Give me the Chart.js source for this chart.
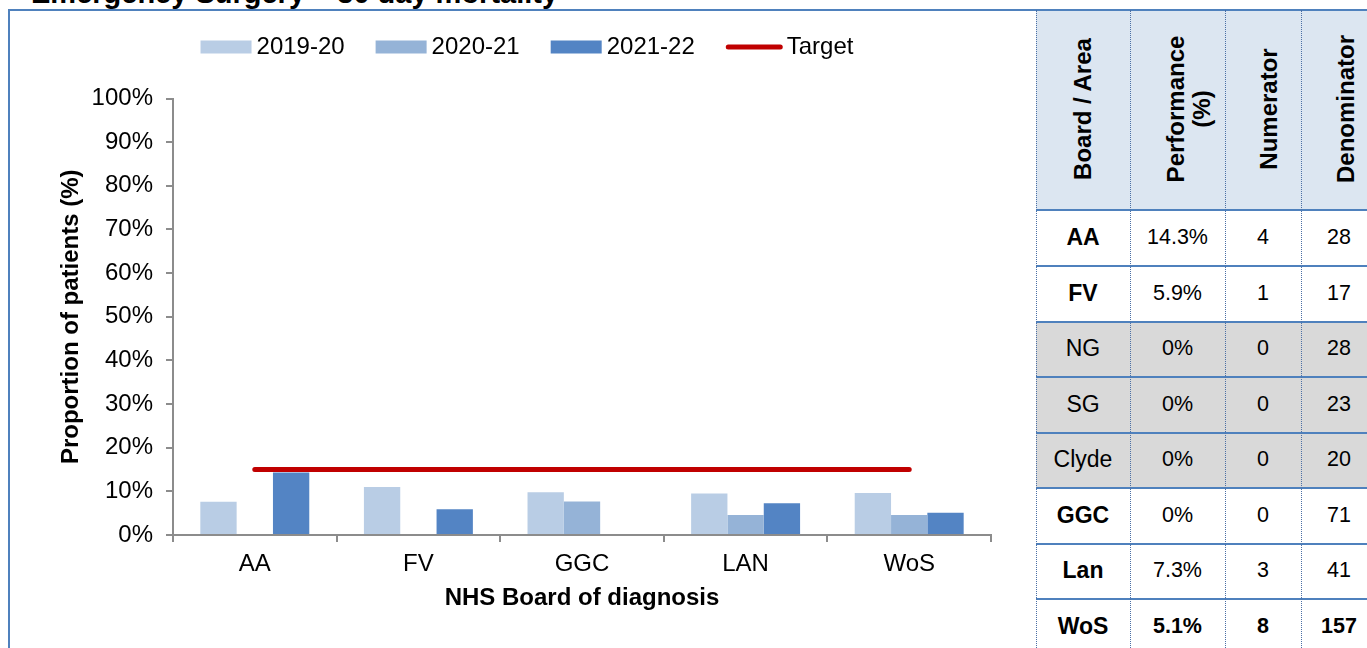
<!DOCTYPE html>
<html>
<head>
<meta charset="utf-8">
<title>Emergency Surgery – 30 day mortality</title>
<script src="https://cdn.jsdelivr.net/npm/chart.js@4/dist/chart.umd.min.js"></script>
<style>
  html, body { margin: 0; padding: 0; background: #fff; overflow: hidden; }
  body { width: 1367px; height: 648px; position: relative; font-family: "Liberation Sans", Arial, sans-serif; color: #000; }
  #title { position: absolute; left: 0; top: 0; width: 760px; height: 9px; overflow: hidden; }
  #title span { position: absolute; left: 31px; top: -21px; font-weight: bold; font-size: 29px; line-height: 29px; white-space: nowrap; }
  #frame { position: absolute; left: 8px; top: 9px; width: 1400px; height: 700px; border-left: 2px solid #4F81BD; border-top: 2px solid #4F81BD; }
  #chart { position: absolute; left: 0; top: 0; }
  .cell { position: absolute; display: flex; align-items: center; justify-content: center; white-space: nowrap; }
  .hline { position: absolute; height: 2px; background: #4F81BD; }
  .vline { position: absolute; width: 0; border-left: 1px dotted #4a6fa5; }
  .head { position: absolute; width: 200px; height: 60px; display: flex; flex-direction: column; align-items: center; justify-content: center; transform: rotate(-90deg); font-weight: bold; font-size: 24px; line-height: 26.5px; white-space: nowrap; }
</style>
</head>
<body>
<div id="title"><span>Emergency Surgery – 30 day mortality</span></div>
<div id="frame"></div>
<canvas id="chart" width="1036" height="648"></canvas>
<div id="table"></div>
<script>
// Chart values (% of patients)
const categories = ['AA', 'FV', 'GGC', 'LAN', 'WoS'];
const values2019 = [7.6, 11.0, 9.8, 9.5, 9.6];
const values2020 = [0, 0, 7.7, 4.6, 4.6];
const values2021 = [14.3, 5.9, 0, 7.3, 5.1];
const targetValues = [15, 15, 15, 15, 15];
const seriesLabels = ['2019-20', '2020-21', '2021-22', 'Target'];

// Summary table
const tableHeaders = [['Board / Area'], ['Performance', '(%)'], ['Numerator'], ['Denominator']];
const tableBoards = ['AA', 'FV', 'NG', 'SG', 'Clyde', 'GGC', 'Lan', 'WoS'];
const tablePerformance = ['14.3%', '5.9%', '0%', '0%', '0%', '0%', '7.3%', '5.1%'];
const tableNumerator = [4, 1, 0, 0, 0, 0, 3, 8];
const tableDenominator = [28, 17, 28, 23, 20, 71, 41, 157];

const FONT = '"Liberation Sans", Arial, sans-serif';
const AXIS = '#8c8c8c';

// Legend drawn as a single centred row above the plot
const rowLegend = {
  id: 'rowLegend',
  afterDraw(chart) {
    const c = chart.ctx;
    c.save();
    c.font = '24px ' + FONT;
    c.textBaseline = 'middle';
    const items = chart.data.datasets.map(ds => ({
      label: ds.label,
      isLine: ds.type === 'line',
      color: ds.type === 'line' ? ds.borderColor : ds.backgroundColor
    }));
    const gap = 31, cy = 47;
    const widths = items.map(it => (it.isLine ? 61 : 56) + c.measureText(it.label).width);
    const total = widths.reduce((a, b) => a + b, 0) + gap * (items.length - 1);
    let x = 527 - total / 2;
    items.forEach((it, i) => {
      if (it.isLine) {
        c.strokeStyle = it.color;
        c.lineWidth = 5;
        c.lineCap = 'round';
        c.beginPath();
        c.moveTo(x + 2.5, cy);
        c.lineTo(x + 54.5, cy);
        c.stroke();
        c.fillStyle = '#000';
        c.fillText(it.label, x + 61, cy);
      } else {
        c.fillStyle = it.color;
        c.fillRect(x, cy - 6.5, 51, 13);
        c.fillStyle = '#000';
        c.fillText(it.label, x + 56, cy);
      }
      x += widths[i] + gap;
    });
    c.restore();
  }
};

new Chart(document.getElementById('chart'), {
  data: {
    labels: categories,
    datasets: [
      { type: 'bar', label: seriesLabels[0], data: values2019, backgroundColor: '#B9CDE5', order: 1 },
      { type: 'bar', label: seriesLabels[1], data: values2020, backgroundColor: '#95B3D7', order: 1 },
      { type: 'bar', label: seriesLabels[2], data: values2021, backgroundColor: '#5384C4', order: 1 },
      { type: 'line', label: seriesLabels[3], data: targetValues, borderColor: '#C00000', backgroundColor: '#C00000',
        borderWidth: 5, borderCapStyle: 'round', pointRadius: 0, tension: 0, order: 0 }
    ]
  },
  options: {
    responsive: false,
    animation: false,
    devicePixelRatio: 1,
    events: [],
    layout: { padding: { left: 0, right: 45, top: 98.5, bottom: 0 } },
    datasets: { bar: { categoryPercentage: 0.666, barPercentage: 1 } },
    plugins: { legend: { display: false }, tooltip: { enabled: false } },
    scales: {
      x: {
        grid: { offset: true, drawOnChartArea: false, drawTicks: true, tickLength: 7, color: AXIS, lineWidth: 2 },
        border: { display: true, color: AXIS, width: 2 },
        ticks: { font: { size: 24, family: FONT }, color: '#000', padding: 8, maxRotation: 0, autoSkip: false },
        title: { display: true, text: 'NHS Board of diagnosis', color: '#000',
                 font: { size: 24, weight: 'bold', family: FONT, lineHeight: 1.2 }, padding: { top: 0, bottom: 35 } },
        afterFit(scale) { scale.height = 113; }
      },
      y: {
        min: 0, max: 100,
        grid: { drawOnChartArea: false, drawTicks: true, tickLength: 7, color: AXIS, lineWidth: 2 },
        border: { display: true, color: AXIS, width: 2 },
        ticks: { stepSize: 10, callback: v => v + '%', font: { size: 24, family: FONT }, color: '#000', padding: 13 },
        title: { display: true, text: 'Proportion of patients (%)', color: '#000',
                 font: { size: 24, weight: 'bold', family: FONT, lineHeight: 1.2 }, padding: { top: 57, bottom: 0 } },
        afterFit(scale) { scale.width = 173; }
      }
    }
  },
  plugins: [rowLegend]
});

// Summary table beside the chart
(function buildTable() {
  const root = document.getElementById('table');
  const colX = [1036, 1130, 1225, 1301, 1377];
  const rowY = [209, 265, 321, 376, 432, 487, 543, 598, 654];
  const shaded = ['NG', 'SG', 'Clyde'];
  const boldNames = ['AA', 'FV', 'GGC', 'Lan', 'WoS'];
  const totalRow = 'WoS';
  const add = (cls, css, html) => {
    const d = document.createElement('div');
    d.className = cls;
    Object.assign(d.style, css);
    if (html !== undefined) d.innerHTML = html;
    root.appendChild(d);
    return d;
  };
  // header background
  add('cell', { left: '1036px', top: '10px', width: '340px', height: '199px', background: '#DCE6F1' });
  // row backgrounds and texts
  tableBoards.forEach((b, i) => {
    const top = rowY[i], h = rowY[i + 1] - rowY[i];
    add('cell', { left: '1036px', top: top + 'px', width: '340px', height: h + 'px',
                  background: shaded.includes(b) ? '#D9D9D9' : '#FFFFFF' });
    const texts = [b, tablePerformance[i], String(tableNumerator[i]), String(tableDenominator[i])];
    texts.forEach((t, j) => {
      const bold = (j === 0 && boldNames.includes(b)) || b === totalRow;
      add('cell', {
        left: colX[j] + 'px', top: top + 'px', width: (colX[j + 1] - colX[j]) + 'px', height: h + 'px',
        fontSize: (j === 0 ? 23 : 21.5) + 'px', fontWeight: bold ? 'bold' : 'normal'
      }, t);
    });
  });
  // header captions, rotated
  const headCx = [1082.5, 1188.8, 1268.7, 1346];
  tableHeaders.forEach((lines, j) => {
    add('head', { left: (headCx[j] - 100) + 'px', top: (109 - 30) + 'px' },
        lines.map(l => '<div>' + l + '</div>').join(''));
  });
  // rules
  [9].concat(rowY.slice(0, 8)).forEach(y => {
    add('hline', { left: '1036px', top: (y) + 'px', width: '340px' });
  });
  colX.slice(0, 4).forEach(x => {
    add('vline', { left: x + 'px', top: '10px', height: '640px' });
  });
})();
</script>
</body>
</html>
